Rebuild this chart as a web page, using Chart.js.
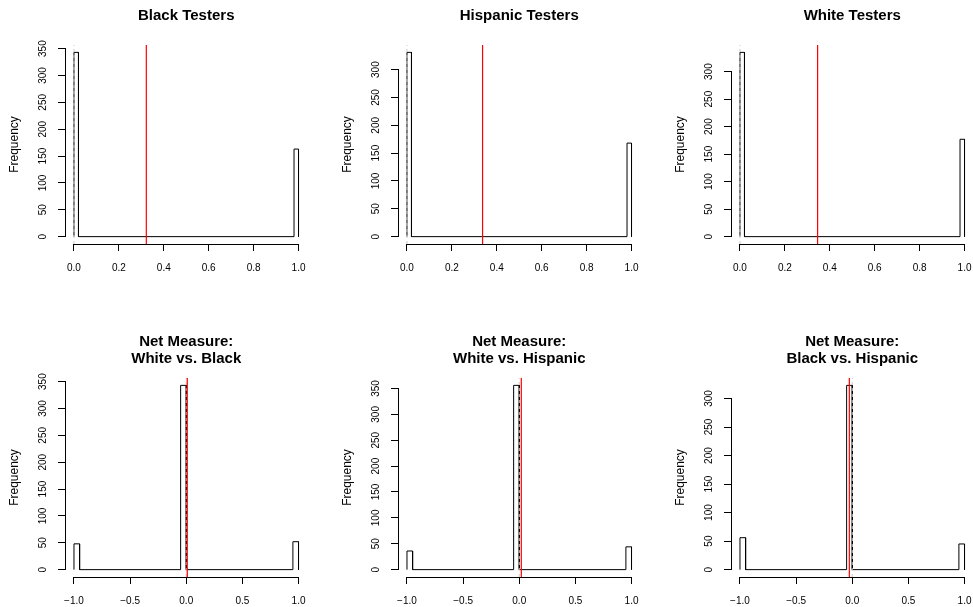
<!DOCTYPE html>
<html>
<head>
<meta charset="utf-8">
<script src="https://cdn.jsdelivr.net/npm/chart.js@4.4.1/dist/chart.umd.min.js"></script>
<style>
  html, body { margin: 0; padding: 0; background: #fff; overflow: hidden; }
  #grid { position: relative; width: 973px; height: 607px; overflow: hidden; }
  .panel { position: absolute; width: 333px; height: 333px; }
</style>
</head>
<body>
<div id="grid"></div>
<script>
// outcome of each test (0 / 1) and how many tests gave it
const testerValues = [0, 1];
const blackFreq = [343, 163];
const hispanicFreq = [331, 168];
const whiteFreq = [335, 177];

// net measures (-1 / 0 / 1)
const netValues = [-1, 0, 1];
const whiteBlackFreq = [48, 343, 52];
const whiteHispanicFreq = [36, 356, 44];
const blackHispanicFreq = [56, 323, 45];

// histogram breaks
const testerRange = [0, 1];
const testerBinWidth = 0.02;
const netRange = [-1, 1];
const netBinWidth = 0.05;

// tick labels
const testerTicks = [0, 0.2, 0.4, 0.6, 0.8, 1];
const netTicks = [-1, -0.5, 0, 0.5, 1];
const freqTicks = [0, 50, 100, 150, 200, 250, 300, 350];

const panelTitles = [
    ['Black Testers'],
    ['Hispanic Testers'],
    ['White Testers'],
    ['Net Measure:', 'White vs. Black'],
    ['Net Measure:', 'White vs. Hispanic'],
    ['Net Measure:', 'Black vs. Hispanic']
];

const FONT = '"Liberation Sans", Arial, Helvetica, sans-serif';
Chart.defaults.font.family = FONT;
Chart.defaults.color = '#000';

// outline of an R style histogram (every bin drawn, empty ones sit on 0)
function histOutline(values, freq, range, w) {
    const pts = [{ x: range[0], y: 0 }];
    values.forEach((v, i) => {
        const x0 = v <= range[0] ? range[0] : v - w;
        const x1 = x0 + w;
        pts.push({ x: x0, y: 0 }, { x: x0, y: freq[i] }, { x: x1, y: freq[i] }, { x: x1, y: 0 });
    });
    pts.push({ x: range[1], y: 0 });
    return pts;
}

function mean(values, freq) {
    let s = 0, n = 0;
    values.forEach((v, i) => { s += v * freq[i]; n += freq[i]; });
    return s / n;
}

function fmtX(v) {
    return (v < 0 ? '\u2212' : '') + Math.abs(v).toFixed(1);
}

// R draws the axis line only from first to last tick
const axisLines = {
    id: 'axisLines',
    afterDraw(chart) {
        const ctx = chart.ctx;
        const { x, y } = chart.scales;
        const area = chart.chartArea;
        const xt = x.ticks, yt = y.ticks;
        const by = Math.round(area.bottom) + 0.5;
        const lx = Math.round(area.left) + 0.5;
        ctx.save();
        ctx.strokeStyle = '#000';
        ctx.lineWidth = 1;
        ctx.beginPath();
        ctx.moveTo(Math.floor(x.getPixelForValue(xt[0].value)), by);
        ctx.lineTo(Math.floor(x.getPixelForValue(xt[xt.length - 1].value)) + 1, by);
        ctx.moveTo(lx, Math.floor(y.getPixelForValue(yt[0].value)) + 1);
        ctx.lineTo(lx, Math.floor(y.getPixelForValue(yt[yt.length - 1].value)));
        ctx.stroke();
        ctx.restore();
    }
};

const panels = [
    { values: testerValues, freq: blackFreq, range: testerRange, w: testerBinWidth, ticks: testerTicks },
    { values: testerValues, freq: hispanicFreq, range: testerRange, w: testerBinWidth, ticks: testerTicks },
    { values: testerValues, freq: whiteFreq, range: testerRange, w: testerBinWidth, ticks: testerTicks },
    { values: netValues, freq: whiteBlackFreq, range: netRange, w: netBinWidth, ticks: netTicks },
    { values: netValues, freq: whiteHispanicFreq, range: netRange, w: netBinWidth, ticks: netTicks },
    { values: netValues, freq: blackHispanicFreq, range: netRange, w: netBinWidth, ticks: netTicks }
];

document.addEventListener('DOMContentLoaded', () => {
    const grid = document.getElementById('grid');

    panels.forEach((p, idx) => {
        const div = document.createElement('div');
        div.className = 'panel';
        div.style.left = (idx % 3) * 333 + 'px';
        div.style.top = Math.floor(idx / 3) * 333 + 'px';
        const canvas = document.createElement('canvas');
        canvas.width = 333;
        canvas.height = 333;
        div.appendChild(canvas);
        grid.appendChild(div);

        const ymax = Math.max(...p.freq);
        const yMin = -0.04 * ymax;
        const yMax = 1.04 * ymax;
        const span = p.range[1] - p.range[0];
        const m = mean(p.values, p.freq);
        const twoLines = panelTitles[idx].length > 1;

        new Chart(canvas, {
            type: 'scatter',
            data: {
                datasets: [
                    {
                        data: histOutline(p.values, p.freq, p.range, p.w),
                        showLine: true, borderColor: '#000', borderWidth: 1,
                        pointRadius: 0, order: 3
                    },
                    {
                        data: [{ x: 0, y: yMin }, { x: 0, y: yMax }],
                        showLine: true, borderColor: '#cccccc', borderWidth: 1,
                        borderDash: [3, 3], pointRadius: 0, order: 2
                    },
                    {
                        data: [{ x: m, y: yMin }, { x: m, y: yMax }],
                        showLine: true, borderColor: '#ff0000', borderWidth: 1.2,
                        pointRadius: 0, order: 1
                    }
                ]
            },
            options: {
                responsive: false,
                animation: false,
                devicePixelRatio: 1,
                layout: { padding: { left: 0, right: 25.5, top: 0, bottom: 0 } },
                plugins: {
                    legend: { display: false },
                    tooltip: { enabled: false },
                    title: {
                        display: true,
                        fullSize: false,
                        text: panelTitles[idx],
                        color: '#000',
                        font: { size: 15, weight: 'bold', lineHeight: '17px' },
                        padding: twoLines ? { top: 0, bottom: 11 } : { top: 7, bottom: 21 }
                    }
                },
                scales: {
                    x: {
                        type: 'linear',
                        min: p.range[0] - 0.04 * span,
                        max: p.range[1] + 0.04 * span,
                        afterBuildTicks: s => { s.ticks = p.ticks.map(v => ({ value: v })); },
                        afterFit: s => { s.height = 89; },
                        border: { display: false },
                        grid: { drawOnChartArea: false, drawTicks: true, tickLength: 7, color: '#000', lineWidth: 1 },
                        ticks: {
                            autoSkip: false, maxRotation: 0, padding: 11,
                            font: { size: 10 }, color: '#000',
                            callback: v => fmtX(v)
                        }
                    },
                    y: {
                        min: yMin,
                        max: yMax,
                        afterBuildTicks: s => {
                            s.ticks = freqTicks.filter(v => v <= yMax).map(v => ({ value: v }));
                        },
                        afterFit: s => { s.width = 65; },
                        border: { display: false },
                        grid: { drawOnChartArea: false, drawTicks: true, tickLength: 7, color: '#000', lineWidth: 1 },
                        title: {
                            display: true, text: 'Frequency', color: '#000',
                            font: { size: 12 }, padding: { top: 7, bottom: 0 }
                        },
                        ticks: {
                            autoSkip: false, minRotation: 90, maxRotation: 90,
                            crossAlign: 'center', padding: 6,
                            font: { size: 10 }, color: '#000',
                            callback: v => String(v)
                        }
                    }
                }
            },
            plugins: [axisLines]
        });
    });
});
</script>
</body>
</html>
